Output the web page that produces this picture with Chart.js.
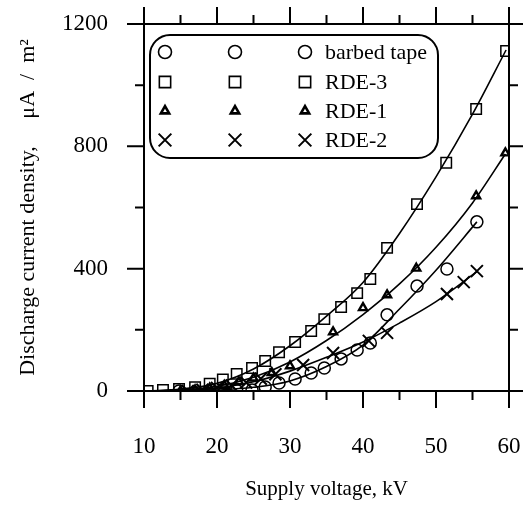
<!DOCTYPE html>
<html>
<head>
<meta charset="utf-8">
<script src="https://cdn.jsdelivr.net/npm/chart.js@4.4.0/dist/chart.umd.min.js"></script>
<style>
  html, body { margin: 0; padding: 0; background: #fff; }
</style>
</head>
<body>
<canvas id="chart" width="523" height="505"></canvas>
<script>
// measured points, supply voltage (kV) and current density (uA/m2)
const barbedV = [14.8, 22.7, 24.8, 26.6, 28.5, 30.7, 32.9, 34.7, 37.0, 39.2, 41.0, 43.3, 47.4, 51.5, 55.6];
const barbedJ = [0, 2, 3, 13, 26, 39, 59, 75, 105, 134, 157, 249, 343, 399, 553];

const rde3V = [10.5, 12.6, 14.8, 17.0, 19.0, 20.8, 22.7, 24.8, 26.6, 28.5, 30.7, 32.9, 34.7, 37.0, 39.2, 41.0, 43.3, 47.4, 51.4, 55.5, 59.6];
const rde3J = [0, 3, 7, 12, 24, 38, 56, 75, 98, 127, 160, 196, 235, 275, 320, 366, 468, 611, 746, 922, 1112];

const rde1V = [15.0, 17.0, 19.0, 21.0, 23.0, 25.0, 27.5, 30.0, 35.9, 40.0, 43.3, 47.3, 55.5, 59.5];
const rde1J = [0, 3, 9, 18, 30, 42, 60, 82, 193, 272, 314, 401, 638, 778];

const rde2V = [16.0, 18.0, 20.0, 22.0, 24.0, 26.0, 28.0, 31.8, 35.9, 40.8, 43.3, 51.5, 53.8, 55.6];
const rde2J = [0, 4, 10, 18, 28, 40, 55, 85, 124, 164, 190, 317, 356, 392];

// fitted curves
const rde3FitV = [10.5, 15, 20, 25, 30, 35, 40, 45, 50, 55, 59.6];
const rde3FitJ = [0, 6, 25, 72, 148, 245, 355, 515, 700, 905, 1115];
const rde1FitV = [14, 20, 25, 30, 35, 40, 45, 50, 55, 59.5];
const rde1FitJ = [0, 15, 45, 95, 165, 250, 350, 470, 615, 775];
const barbedFitV = [16, 20, 25, 30, 35, 40, 45, 50, 55.6];
const barbedFitJ = [0, 3, 12, 33, 80, 150, 268, 395, 553];
const rde2FitV = [15, 20, 25, 30, 35, 40, 45, 50, 55.6];
const rde2FitJ = [0, 10, 30, 65, 110, 160, 222, 292, 390];

// axis ticks
const xMajor = [10, 20, 30, 40, 50, 60];
const xMinor = [15, 25, 35, 45, 55];
const yMajor = [0, 400, 800, 1200];
const yMinor = [200, 600, 1000];

const seriesNames = ['barbed tape', 'RDE-3', 'RDE-1', 'RDE-2'];

const serif = '"Liberation Serif", "DejaVu Serif", serif';

function pts(xs, ys) {
    return xs.map((v, i) => ({ x: v, y: ys[i] }));
}

const markerStyles = [
    { pointStyle: 'circle', radius: 6, borderWidth: 1.5 },
    { pointStyle: 'rect', radius: 7.4, borderWidth: 1.5 },
    { pointStyle: 'triangle', radius: 4.6, borderWidth: 2.4 },
    { pointStyle: 'crossRot', radius: 8.5, borderWidth: 2 }
];

function markerSet(label, xs, ys, st) {
    return {
        label: label,
        data: pts(xs, ys),
        showLine: false,
        pointStyle: st.pointStyle,
        pointRadius: st.radius,
        pointBorderWidth: st.borderWidth,
        pointBorderColor: '#000',
        pointBackgroundColor: 'rgba(0,0,0,0)',
        order: 1
    };
}

function curveSet(xs, ys) {
    return {
        data: pts(xs, ys),
        showLine: true,
        pointRadius: 0,
        borderColor: '#000',
        borderWidth: 1.6,
        cubicInterpolationMode: 'monotone',
        order: 2
    };
}

// box round the plot with outward ticks on all four sides
const framePlugin = {
    id: 'frame',
    beforeDatasetsDraw(chart) {
        const { ctx, chartArea: a, scales: { x, y } } = chart;
        ctx.save();
        ctx.strokeStyle = '#000';
        ctx.lineWidth = 2;
        ctx.strokeRect(a.left, a.top, a.right - a.left, a.bottom - a.top);
        ctx.beginPath();
        const xt = (v, len) => {
            const px = x.getPixelForValue(v);
            ctx.moveTo(px, a.bottom); ctx.lineTo(px, a.bottom + len);
            ctx.moveTo(px, a.top); ctx.lineTo(px, a.top - len);
        };
        const yt = (v, len) => {
            const py = y.getPixelForValue(v);
            ctx.moveTo(a.left, py); ctx.lineTo(a.left - len, py);
            ctx.moveTo(a.right, py); ctx.lineTo(a.right + len, py);
        };
        xMajor.forEach(v => xt(v, 17));
        xMinor.forEach(v => xt(v, 9));
        yMajor.forEach(v => yt(v, 17));
        yMinor.forEach(v => yt(v, 9));
        ctx.stroke();
        ctx.restore();
    }
};

// legend: three symbol columns and a label, in a rounded box
const legendPlugin = {
    id: 'boxLegend',
    afterDatasetsDraw(chart) {
        const ctx = chart.ctx;
        const bx = 150, by = 35, bw = 288, bh = 123, r = 20;
        ctx.save();
        ctx.beginPath();
        ctx.moveTo(bx + r, by);
        ctx.arcTo(bx + bw, by, bx + bw, by + bh, r);
        ctx.arcTo(bx + bw, by + bh, bx, by + bh, r);
        ctx.arcTo(bx, by + bh, bx, by, r);
        ctx.arcTo(bx, by, bx + bw, by, r);
        ctx.closePath();
        ctx.fillStyle = '#fff';
        ctx.fill();
        ctx.strokeStyle = '#000';
        ctx.lineWidth = 2;
        ctx.stroke();

        const rows = [52, 82, 111, 140];
        const cols = [165, 235, 305];
        const legendMarks = [
            { pointStyle: 'circle', radius: 6.5, borderWidth: 1.6 },
            { pointStyle: 'rect', radius: 8, borderWidth: 1.6 },
            { pointStyle: 'triangle', radius: 4.8, borderWidth: 2.6 },
            { pointStyle: 'crossRot', radius: 9, borderWidth: 2 }
        ];
        seriesNames.forEach((name, i) => {
            cols.forEach(cx => {
                ctx.fillStyle = 'rgba(0,0,0,0)';
                ctx.strokeStyle = '#000';
                ctx.lineWidth = legendMarks[i].borderWidth;
                Chart.helpers.drawPoint(ctx, Object.assign({ rotation: 0 }, legendMarks[i]), cx, rows[i]);
            });
            ctx.fillStyle = '#000';
            ctx.font = '22px ' + serif;
            ctx.textAlign = 'left';
            ctx.textBaseline = 'middle';
            ctx.fillText(name, 325, rows[i] + 1);
        });
        ctx.restore();
    }
};

// invisible tick marks only push the labels away from the frame
const hiddenTicks = (len) => ({
    display: true,
    drawOnChartArea: false,
    drawTicks: true,
    tickLength: len,
    tickColor: 'rgba(0,0,0,0)'
});

new Chart(document.getElementById('chart'), {
    type: 'scatter',
    data: {
        datasets: [
            markerSet(seriesNames[0], barbedV, barbedJ, markerStyles[0]),
            markerSet(seriesNames[1], rde3V, rde3J, markerStyles[1]),
            markerSet(seriesNames[2], rde1V, rde1J, markerStyles[2]),
            markerSet(seriesNames[3], rde2V, rde2J, markerStyles[3]),
            curveSet(barbedFitV, barbedFitJ),
            curveSet(rde3FitV, rde3FitJ),
            curveSet(rde1FitV, rde1FitJ),
            curveSet(rde2FitV, rde2FitJ)
        ]
    },
    options: {
        responsive: false,
        animation: false,
        devicePixelRatio: 1,
        layout: { padding: { top: 24, right: 14, left: 0, bottom: 0 } },
        plugins: {
            legend: { display: false },
            tooltip: { enabled: false }
        },
        scales: {
            x: {
                type: 'linear',
                min: 10,
                max: 60,
                afterFit(scale) { scale.height = 114; },
                grid: hiddenTicks(40),
                border: { display: false },
                ticks: {
                    stepSize: 10,
                    padding: 2,
                    maxRotation: 0,
                    color: '#000',
                    font: { family: serif, size: 23 }
                },
                title: {
                    display: true,
                    text: 'Supply voltage, kV',
                    color: '#000',
                    font: { family: serif, size: 21 },
                    padding: { top: 0, bottom: 3 }
                }
            },
            y: {
                type: 'linear',
                min: 0,
                max: 1200,
                afterFit(scale) { scale.width = 144; },
                grid: hiddenTicks(34),
                border: { display: false },
                ticks: {
                    stepSize: 400,
                    padding: 2,
                    color: '#000',
                    font: { family: serif, size: 23 },
                    callback: (v) => String(v)
                },
                title: {
                    display: true,
                    text: 'Discharge current density,     μA  /  m²',
                    color: '#000',
                    font: { family: serif, size: 22 },
                    padding: { top: 15, bottom: 0 }
                }
            }
        }
    },
    plugins: [framePlugin, legendPlugin]
});
</script>
</body>
</html>
